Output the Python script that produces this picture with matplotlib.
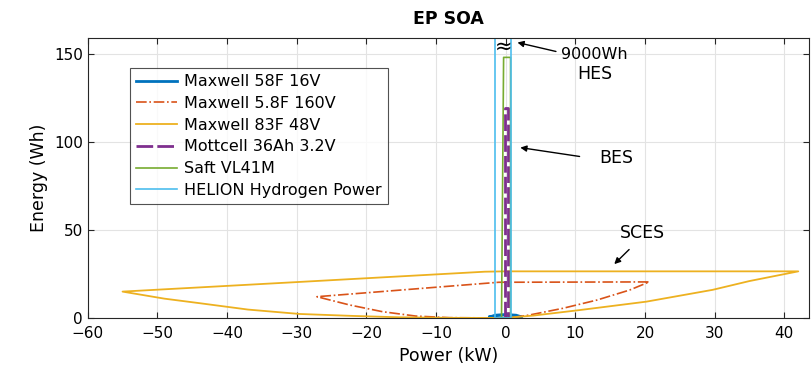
import numpy as np
import matplotlib
matplotlib.use("Agg")
import matplotlib.pyplot as plt

# colours (MATLAB default order)
C_BLUE = "#0072BD"
C_RED = "#D95319"
C_YEL = "#EDB120"
C_PUR = "#7E2F8E"
C_GRN = "#77AC30"
C_CYA = "#4DBEEE"

# Maxwell 58F 16V - tiny lens at the origin
m58_p = [-2.3, -1.5, 0.0, 1.5, 2.3, 1.5, 0.0, -1.5, -2.3]
m58_e = [0.6, 1.6, 2.0, 1.6, 0.6, 0.1, 0.0, 0.1, 0.6]

# Maxwell 5.8F 160V
m5_p = [0.0, -8.1, -12.9, -17.7, -22.4, -27.1, -1.0, 20.6, 17.8, 13.1, 8.2, 3.4, 1.0, 0.0]
m5_e = [0.0, 0.2, 1.1, 3.6, 7.4, 12.1, 20.3, 20.5, 15.9, 10.2, 5.5, 1.7, 0.3, 0.0]

# Maxwell 83F 48V
m83_p = [0.0, -8.0, -15.2, -22.0, -29.6, -37.0, -43.9, -49.0, -55.0, -30.0, -3.0,
         0.0, 42.0, 35.0, 29.7, 20.2, 10.6, 4.0, 1.0, 0.0]
m83_e = [0.0, 0.1, 0.4, 1.2, 2.3, 4.8, 8.4, 11.0, 15.0, 20.4, 26.3,
         26.5, 26.5, 21.0, 16.0, 9.3, 4.5, 1.4, 0.4, 0.0]

# Mottcell 36Ah 3.2V
mot_p = [-0.1, -0.1, 0.4, 0.4, -0.1]
mot_e = [0.0, 119.0, 119.0, 0.0, 0.0]

# Saft VL41M
saft_p = [-0.6, -0.3, 0.7, 0.7, -0.6]
saft_e = [0.0, 148.0, 148.0, 0.0, 0.0]

# HELION Hydrogen Power (runs off the top, 9000 Wh)
hel_p = [-1.5, -1.5, 0.8, 0.8, -1.5]
hel_e = [0.0, 9000.0, 9000.0, 0.0, 0.0]

x_ticks = np.arange(-60, 41, 10)
y_ticks = [0, 50, 100, 150]

fig = plt.figure(figsize=(8.12, 3.82), dpi=100)
ax = fig.add_axes([0.108, 0.1675, 0.888, 0.733])

ax.plot(m58_p, m58_e, color=C_BLUE, lw=2.0, label="Maxwell 58F 16V")
ax.plot(m5_p, m5_e, color=C_RED, lw=1.2, ls="-.", label="Maxwell 5.8F 160V")
ax.plot(m83_p, m83_e, color=C_YEL, lw=1.3, label="Maxwell 83F 48V")
ax.plot(mot_p, mot_e, color=C_PUR, lw=2.0, ls=(0, (6, 1.5)), label="Mottcell 36Ah 3.2V")
ax.plot(saft_p, saft_e, color=C_GRN, lw=1.2, label="Saft VL41M")
ax.plot(hel_p, hel_e, color=C_CYA, lw=1.2, label="HELION Hydrogen Power")

# axis break mark on the hydrogen column
ax.text(-0.3, 154, "\u2248", fontsize=15, ha="center", va="center", color="black")

ax.annotate("", xy=(1.3, 156.8), xytext=(7.6, 151),
            arrowprops=dict(arrowstyle="-|>", color="black", lw=1, mutation_scale=9))
ax.text(8.0, 149.5, "9000Wh", fontsize=11.5, va="center", ha="left")
ax.text(12.8, 138.5, "HES", fontsize=12.5, va="center", ha="center")

ax.annotate("", xy=(1.7, 97), xytext=(11.0, 91.5),
            arrowprops=dict(arrowstyle="-|>", color="black", lw=1, mutation_scale=9))
ax.text(15.8, 91, "BES", fontsize=12.5, va="center", ha="center")

ax.annotate("", xy=(15.3, 29.5), xytext=(18.0, 40),
            arrowprops=dict(arrowstyle="-|>", color="black", lw=1, mutation_scale=9))
ax.text(19.6, 48.5, "SCES", fontsize=12.5, va="center", ha="center")

ax.set_xlim(-60, 43.5)
ax.set_ylim(0, 159)
ax.set_xticks(x_ticks)
ax.set_yticks(y_ticks)
ax.grid(True, color="#e3e3e3", lw=0.8)
ax.set_axisbelow(True)
ax.tick_params(direction="in", top=True, right=True, labelsize=11, length=4, color="#262626")
ax.tick_params(axis="x", pad=6)
for s in ax.spines.values():
    s.set_color("#262626")
    s.set_linewidth(0.8)

ax.set_xlabel("Power (kW)", fontsize=12.5)
ax.set_ylabel("Energy (Wh)", fontsize=12.5)
ax.set_title("EP SOA", fontsize=12.5, fontweight="bold", pad=10)

leg = ax.legend(loc="upper left", bbox_to_anchor=(0.058, 0.893), borderaxespad=0,
                fontsize=11.5, frameon=True, fancybox=False, edgecolor="#262626",
                handlelength=2.6, handletextpad=0.4, labelspacing=0.42, borderpad=0.4)
leg.get_frame().set_linewidth(0.8)

fig.savefig("out.png", dpi=100)
